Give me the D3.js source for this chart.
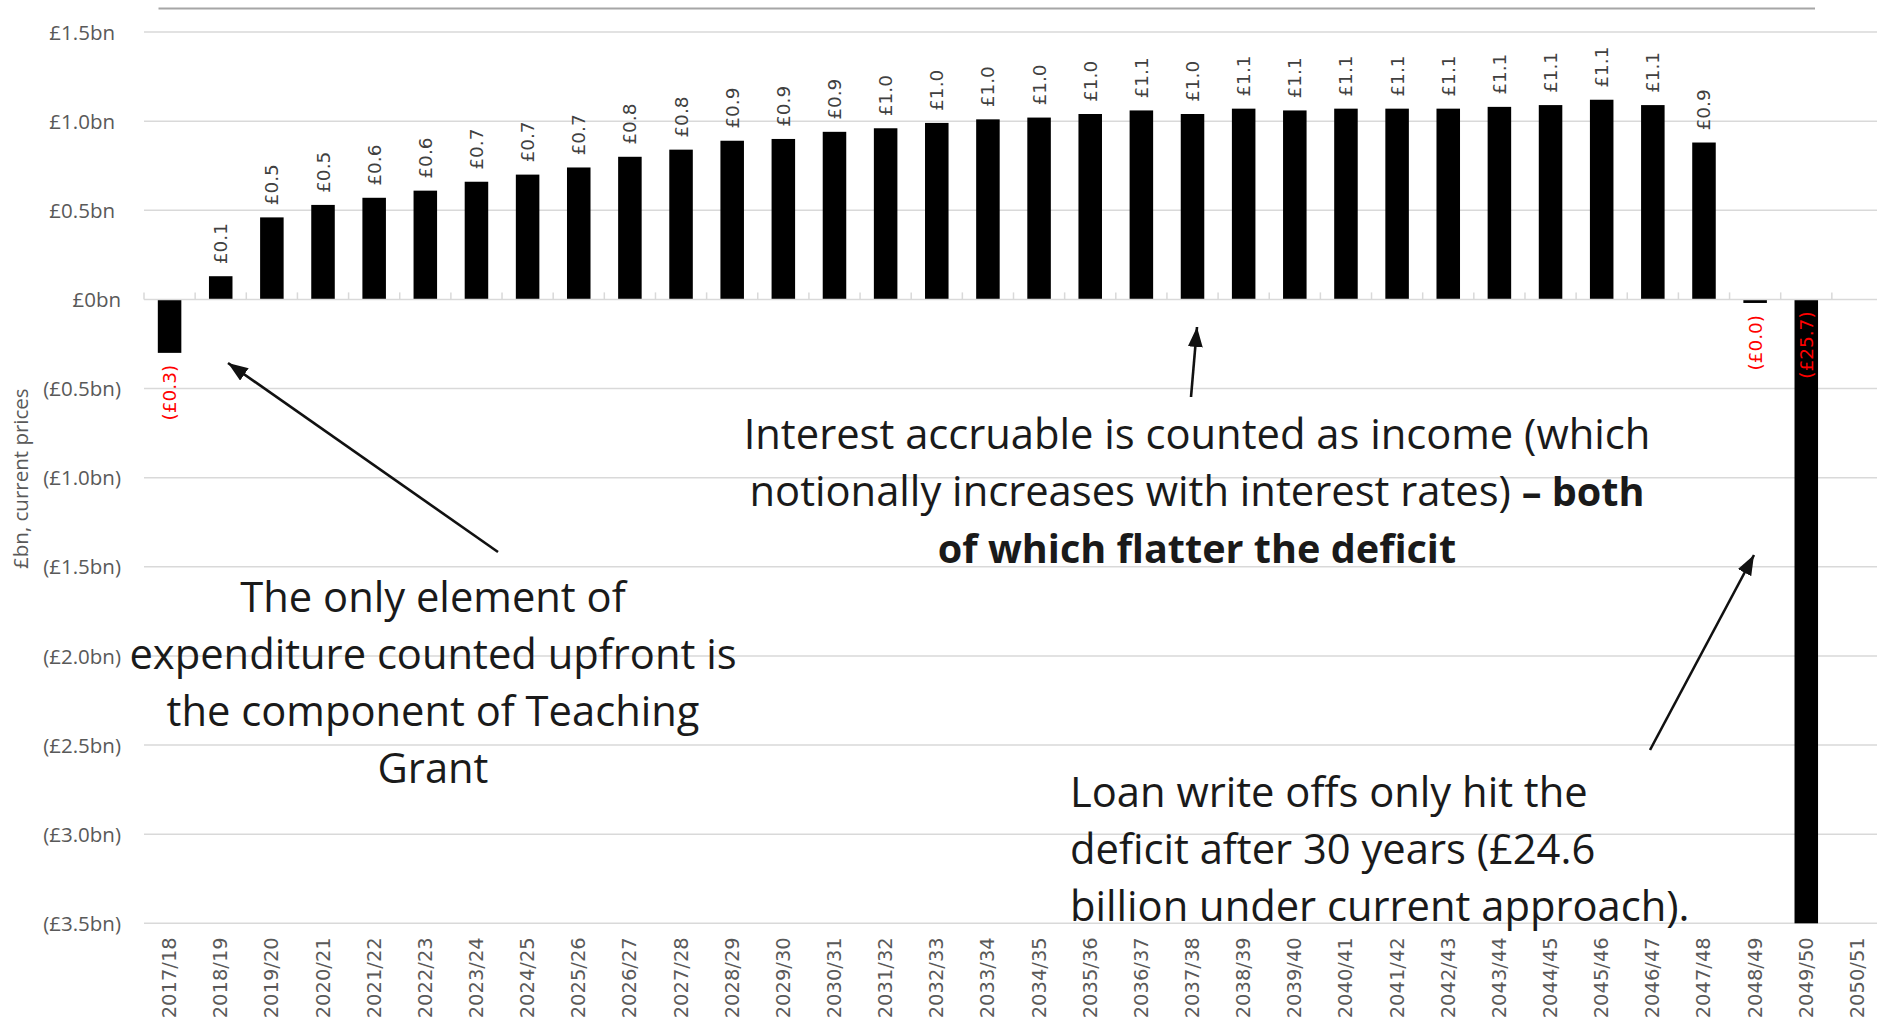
<!DOCTYPE html>
<html>
<head>
<meta charset="utf-8">
<script src="https://cdn.jsdelivr.net/npm/d3@7"></script>
<style>
  html, body { margin: 0; padding: 0; background: #ffffff; }
  svg { display: block; }
</style>
</head>
<body>
<svg id="chart" width="1877" height="1023"></svg>
<script>
// Financial years on the horizontal axis
const years = [
  "2017/18","2018/19","2019/20","2020/21","2021/22","2022/23","2023/24","2024/25",
  "2025/26","2026/27","2027/28","2028/29","2029/30","2030/31","2031/32","2032/33",
  "2033/34","2034/35","2035/36","2036/37","2037/38","2038/39","2039/40","2040/41",
  "2041/42","2042/43","2043/44","2044/45","2045/46","2046/47","2047/48","2048/49",
  "2049/50","2050/51"
];

// Net effect on the deficit per year, £bn current prices (null = no entry)
const deficitImpact = [
  -0.30, 0.13, 0.46, 0.53, 0.57, 0.61, 0.66, 0.70,
   0.74, 0.80, 0.84, 0.89, 0.90, 0.94, 0.96, 0.99,
   1.01, 1.02, 1.04, 1.06, 1.04, 1.07, 1.06, 1.07,
   1.07, 1.07, 1.08, 1.09, 1.12, 1.09, 0.88, -0.02,
  -25.7, null
];

// Value axis ticks and their printed labels
const yTickValues = [1.5, 1.0, 0.5, 0, -0.5, -1.0, -1.5, -2.0, -2.5, -3.0, -3.5];
const yTickLabels = ["£1.5bn","£1.0bn","£0.5bn","£0bn","(£0.5bn)","(£1.0bn)",
                     "(£1.5bn)","(£2.0bn)","(£2.5bn)","(£3.0bn)","(£3.5bn)"];

const yAxisTitle = "£bn, current prices";

// Call-out texts; each line is a list of [text, bold] runs
const noteInterest = [
  [["Interest accruable is counted as income (which", false]],
  [["notionally increases with interest rates) ", false], ["– both", true]],
  [["of which flatter the deficit", true]]
];
const noteTeaching = [
  [["The only element of", false]],
  [["expenditure counted upfront is", false]],
  [["the component of Teaching", false]],
  [["Grant", false]]
];
const noteWriteOffs = [
  [["Loan write offs only hit the", false]],
  [["deficit after 30 years (£24.6", false]],
  [["billion under current approach).", false]]
];

// ---------------------------------------------------------------- layout
const svg = d3.select("#chart");
const plot = { left: 144, right: 1883, top: 32, bottom: 923.3 };

const x = d3.scaleBand()
  .domain(years)
  .range([plot.left, plot.right])
  .paddingInner(0.54)
  .paddingOuter(0.27);

const yDomain = [-3.5, 1.5];
const y = d3.scaleLinear().domain(yDomain).range([plot.bottom, plot.top]).clamp(true);

const step = x.step();

const axisFont = "'Open Sans', 'DejaVu Sans', sans-serif";
const labelFont = "'DejaVu Sans', Verdana, sans-serif";
const noteFont = "'Open Sans', Lato, sans-serif";
const greyText = "#595959";

// Decorative rule along the top of the frame
svg.append("line")
  .attr("x1", 158.5).attr("x2", 1815)
  .attr("y1", 8.5).attr("y2", 8.5)
  .attr("stroke", "#a6a6a6").attr("stroke-width", 2);

// Horizontal gridlines (zero line drawn separately as the category axis)
svg.append("g")
  .selectAll("line")
  .data(yTickValues.filter(v => v !== 0))
  .join("line")
  .attr("x1", plot.left).attr("x2", plot.right)
  .attr("y1", d => y(d)).attr("y2", d => y(d))
  .attr("stroke", "#d9d9d9").attr("stroke-width", 1.5);

// Value axis labels; positive labels leave room for a closing bracket
const yAxis = d3.axisLeft(y)
  .tickValues(yTickValues)
  .tickSize(0)
  .tickPadding(0)
  .tickFormat((d, i) => yTickLabels[i]);

const gy = svg.append("g")
  .attr("transform", `translate(${plot.left - 23},0)`)
  .call(yAxis);
gy.select(".domain").remove();
gy.selectAll("text")
  .attr("font-family", axisFont)
  .attr("font-size", 20.5)
  .attr("fill", greyText)
  .attr("dy", "0.35em")
  .attr("dx", d => d > 0 ? -6 : 0);

// Axis title
svg.append("text")
  .attr("transform", `translate(20,${(plot.top + plot.bottom) / 2 + 1}) rotate(-90)`)
  .attr("text-anchor", "middle")
  .attr("dominant-baseline", "central")
  .attr("font-family", axisFont)
  .attr("font-size", 20.5)
  .attr("fill", greyText)
  .text(yAxisTitle);

// Bars
const rows = years.map((yr, i) => ({ yr, v: deficitImpact[i] })).filter(d => d.v !== null);

svg.append("g")
  .selectAll("rect")
  .data(rows)
  .join("rect")
  .attr("x", d => x(d.yr))
  .attr("width", x.bandwidth())
  .attr("y", d => Math.min(y(d.v), y(0)))
  .attr("height", d => Math.abs(y(d.v) - y(0)))
  .attr("fill", "#000000");

// Category axis along zero, with upward tick marks between categories
const gx = svg.append("g");
gx.append("line")
  .attr("x1", plot.left).attr("x2", plot.right)
  .attr("y1", y(0)).attr("y2", y(0))
  .attr("stroke", "#d9d9d9").attr("stroke-width", 1.5);
gx.selectAll("line.tick")
  .data(years.concat(["end"]))
  .join("line")
  .attr("class", "tick")
  .attr("x1", (d, i) => plot.left + i * step)
  .attr("x2", (d, i) => plot.left + i * step)
  .attr("y1", y(0)).attr("y2", y(0) - 7)
  .attr("stroke", "#d9d9d9").attr("stroke-width", 1.5);

// Category labels, rotated, at the foot of the chart
svg.append("g")
  .selectAll("text")
  .data(years)
  .join("text")
  .attr("transform", d => `translate(${x(d) + x.bandwidth() / 2},${plot.bottom + 14}) rotate(-90)`)
  .attr("text-anchor", "end")
  .attr("dominant-baseline", "central")
  .attr("font-family", labelFont)
  .attr("font-size", 19.5)
  .attr("fill", greyText)
  .text(d => d);

// Data labels: grey above positive bars, red in brackets below negative bars
const fmt = v => v < 0 ? `(£${Math.abs(v).toFixed(1)})` : `£${v.toFixed(1)}`;
svg.append("g")
  .selectAll("text")
  .data(rows)
  .join("text")
  .attr("transform", d => {
    const cx = x(d.yr) + x.bandwidth() / 2;
    if (d.v >= 0) return `translate(${cx},${y(d.v) - 12}) rotate(-90)`;
    const end = d.v < yDomain[0] ? y(0) : y(d.v);
    return `translate(${cx},${end + 12}) rotate(-90)`;
  })
  .attr("text-anchor", d => d.v >= 0 ? "start" : "end")
  .attr("dominant-baseline", "central")
  .attr("font-family", labelFont)
  .attr("font-size", 18.5)
  .attr("fill", d => d.v >= 0 ? "#404040" : "#ff0000")
  .text(d => fmt(d.v));

// Arrowhead
svg.append("defs").append("marker")
  .attr("id", "head")
  .attr("markerUnits", "userSpaceOnUse")
  .attr("markerWidth", 22).attr("markerHeight", 16)
  .attr("refX", 20).attr("refY", 7.5)
  .attr("orient", "auto")
  .append("path")
  .attr("d", "M0,0 L20,7.5 L0,15 Z")
  .attr("fill", "#111111");

const arrows = [
  { from: [498, 552], to: [228, 363] },
  { from: [1191, 397], to: [1197, 327] },
  { from: [1650, 750], to: [1754, 555] }
];
svg.append("g")
  .selectAll("line")
  .data(arrows)
  .join("line")
  .attr("x1", d => d.from[0]).attr("y1", d => d.from[1])
  .attr("x2", d => d.to[0]).attr("y2", d => d.to[1])
  .attr("stroke", "#111111").attr("stroke-width", 2.6)
  .attr("marker-end", "url(#head)");

// Call-out blocks
function callout(lines, xPos, firstBaseline, anchor) {
  const t = svg.append("text")
    .attr("font-family", noteFont)
    .attr("font-size", 41.7)
    .attr("fill", "#1a1a1a")
    .attr("text-anchor", anchor);
  lines.forEach((runs, li) => {
    runs.forEach(([txt, bold], ri) => {
      const s = t.append("tspan")
        .attr("font-weight", bold ? 700 : 400)
        .attr("font-size", bold ? 39.6 : null)
        .text(txt);
      if (ri === 0) s.attr("x", xPos).attr("y", firstBaseline + li * 57);
    });
  });
}
callout(noteInterest, 1197, 449, "middle");
callout(noteTeaching, 433, 612, "middle");
callout(noteWriteOffs, 1070, 807, "start");
</script>
</body>
</html>
